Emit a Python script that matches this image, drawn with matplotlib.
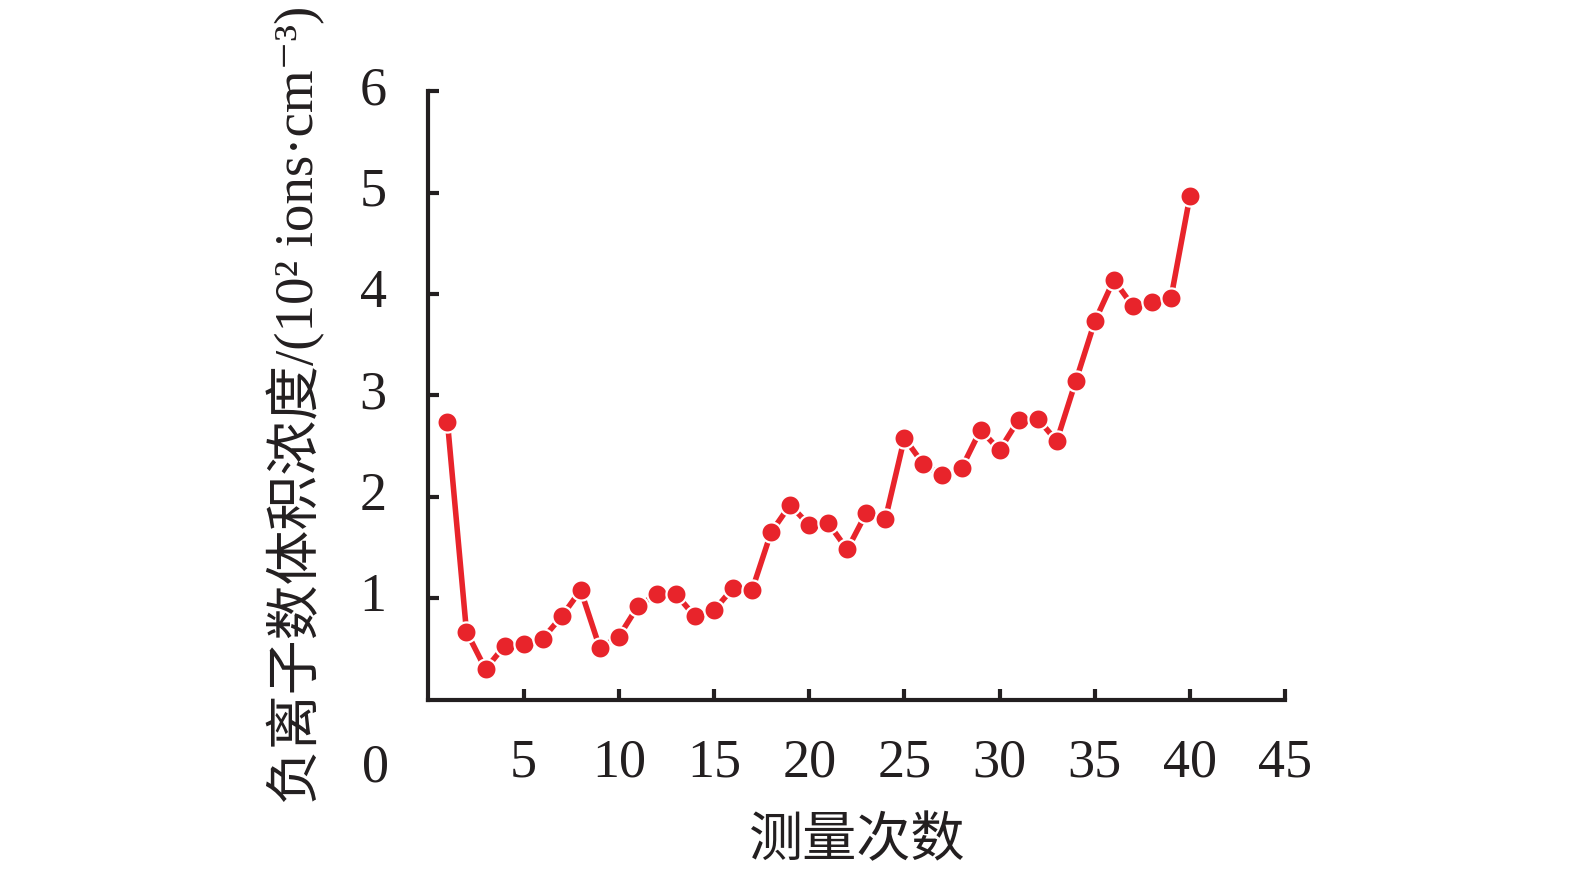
import matplotlib
matplotlib.use("Agg")
import matplotlib.pyplot as plt

plt.rcParams['font.family'] = ['Liberation Serif', 'Noto Sans CJK SC', 'DejaVu Serif']

# measurement index and anion concentration (10^2 ions/cm3)
counts = list(range(1, 41))
values = [2.74, 0.67, 0.30, 0.53, 0.55, 0.60, 0.82, 1.08, 0.51, 0.62,
          0.92, 1.04, 1.04, 0.82, 0.88, 1.10, 1.08, 1.65, 1.92, 1.72,
          1.74, 1.48, 1.84, 1.78, 2.58, 2.32, 2.21, 2.28, 2.66, 2.46,
          2.76, 2.77, 2.55, 3.14, 3.73, 4.14, 3.88, 3.92, 3.96, 4.97]

xticks = [5, 10, 15, 20, 25, 30, 35, 40, 45]
yticks = [1, 2, 3, 4, 5, 6]

fig = plt.figure(figsize=(15.75, 8.69), dpi=100)
ax = fig.add_axes([0.272, 0.195, 0.544, 0.70])

ax.plot(counts, values, color="#e8242b", linewidth=4, marker="o",
        markersize=14.5, markeredgecolor="white", markeredgewidth=1.6,
        solid_capstyle="butt", zorder=3)

ax.set_xlim(0, 45)
ax.set_ylim(0, 6)
ax.set_xticks(xticks)
ax.set_yticks(yticks)

for s in ["top", "right"]:
    ax.spines[s].set_visible(False)
for s in ["left", "bottom"]:
    ax.spines[s].set_linewidth(3)
    ax.spines[s].set_color("#231f20")

ax.tick_params(direction="in", length=8, width=3, color="#231f20",
               labelsize=39, labelcolor="#231f20")
ax.tick_params(axis="x", pad=28)
ax.tick_params(axis="y", pad=30)
for lbl in ax.get_yticklabels():
    lbl.set_verticalalignment("center")

# shared origin label
ax.annotate("0", xy=(0, 0), xycoords="data", xytext=(-38, -31),
            textcoords="offset points", ha="center", va="top",
            fontsize=39, color="#231f20")

ax.set_xlabel("测量次数", fontsize=39, color="#231f20", labelpad=21)
ax.set_ylabel("负离子数体积浓度/(10² ions·cm⁻³)", fontsize=39.5,
              color="#231f20")
ax.yaxis.set_label_coords(-0.12, 0.485)

fig.savefig("out.png", dpi=100)
